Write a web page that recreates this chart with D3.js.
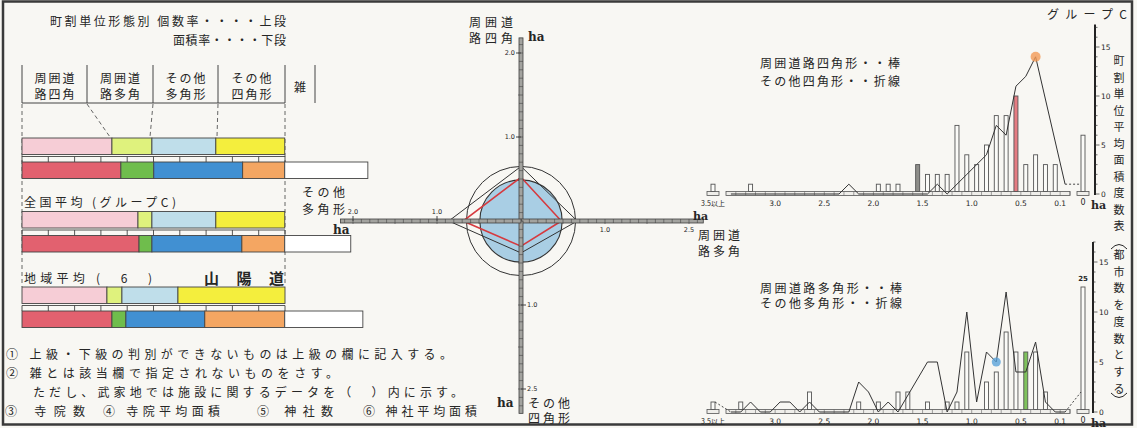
<!DOCTYPE html>
<html>
<head>
<meta charset="utf-8">
<script src="https://cdn.jsdelivr.net/npm/d3@7"></script>
<style>
  body { margin: 0; background: #f8f7f3; }
  svg { display: block; font-family: "Noto Sans CJK JP", "Noto Sans", sans-serif; }
</style>
</head>
<body>
<svg id="chart" width="1137" height="428"></svg>
<script>
// ---- left panel: 町割単位形態別 rates (percent) ----
const headerLines = [["周囲道", "路四角"], ["周囲道", "路多角"], ["その他", "多角形"], ["その他", "四角形"], ["雑"]];
const groupLabels = ["", "全国平均 (グループC)", "地域平均 (　6　)"];
const countRate = [
  [34.2, 15.2, 24.3, 26.2, 0],
  [44.1, 5.3, 24.3, 26.2, 0],
  [32.3, 5.7, 21.3, 40.7, 0]
];
const areaRate = [
  [37.6, 12.5, 33.8, 16.0, 31.6],
  [44.5, 4.9, 34.2, 16.3, 25.1],
  [34.2, 5.3, 30.0, 30.4, 29.7]
];
const countColors = ["#f6cdd6", "#dff27d", "#bfdeea", "#f4ee3d", "#ffffff"];
const areaColors = ["#e2616f", "#6fbd4c", "#4190d2", "#f4a662", "#ffffff"];
const notes = [
  "① 上級・下級の判別ができないものは上級の欄に記入する。",
  "② 雑とは該当欄で指定されないものをさす。",
  "ただし、武家地では施設に関するデータを（　）内に示す。"
];
const notesLast = ["③ 寺院数", "④ 寺院平均面積", "⑤ 神社数", "⑥ 神社平均面積"];

// ---- centre: radar (ha) order: up, right, down, left ----
const radarNames = [["周囲道", "路四角"], ["周囲道", "路多角"], ["その他", "四角形"], ["その他", "多角形"]];
const radarBlack = [0.65, 0.67, 0.38, 0.86];
const radarRed = [0.52, 0.48, 0.30, 0.69];
const circleBlue = 0.49;
const circleOuter = 0.65;
const radarTicks = [1.0, 2.0];
const radarTickLabels = [["1.0", "2.0"], ["1.0", "2.5"], ["1.0", "2.5"], ["1.0", "2.0"]];
const radarLength = [2.18, 2.17, 2.29, 2.15];

// ---- right: histograms, bins of 0.1 ha (bin centre, number of towns) ----
const histTicksX = [3.0, 2.5, 2.0, 1.5, 1.0, 0.5, 0.1];
const histTicksY = [0, 5, 10, 15];
const sqBars = [[3.25, 1], [1.95, 1], [1.85, 1], [1.75, 1], [1.55, 3], [1.45, 2], [1.35, 2], [1.25, 2],
  [1.15, 7], [1.05, 4], [0.95, 3], [0.85, 5], [0.75, 8], [0.65, 8], [0.55, 10], [0.45, 3], [0.35, 4],
  [0.25, 3], [0.15, 3]];
const sqOver = 1, sqZero = 6;
const sqLine = [[3.45, 0], [2.35, 0], [2.25, 1], [2.15, 0], [1.45, 0], [1.35, 1], [1.25, 0], [1.15, 1],
  [1.05, 2], [0.95, 3], [0.85, 4], [0.75, 7], [0.65, 6], [0.55, 11], [0.45, 12], [0.35, 14], [0.05, 1]];
const sqLineZero = 1;
const polyBars = [[3.35, 1], [2.65, 2], [2.15, 1], [1.95, 1], [1.75, 2], [1.65, 2], [1.45, 1], [1.25, 1],
  [1.15, 1], [1.05, 6], [0.85, 3], [0.75, 4], [0.65, 8], [0.55, 6], [0.45, 6], [0.35, 6], [0.25, 2]];
const polyOver = 1, polyZero = 25;
const polyLine = [[3.45, 0], [3.35, 0], [3.25, 1], [3.15, 0], [3.05, 0], [2.95, 1], [2.85, 1], [2.75, 0],
  [2.65, 1], [2.55, 0], [2.25, 0], [2.15, 3], [2.05, 2], [1.95, 0], [1.85, 1], [1.75, 0], [1.45, 5],
  [1.35, 5], [1.25, 0], [1.15, 2], [1.05, 10], [0.95, 1], [0.85, 6], [0.75, 5], [0.65, 12], [0.55, 4],
  [0.45, 4], [0.35, 7], [0.25, 1], [0.15, 0], [0.05, 0]];
const polyLineOver = 1, polyLineZero = 2;
const vertTop = "町割単位平均面積度数表";
const vertBottom = "都市数を度数とする";

const svg = d3.select("#chart");
const ink = "#262626";

function label(str, x, y, o = {}) {
  const t = svg.append("text").attr("x", x).attr("y", y).text(str)
    .attr("font-size", o.size || 12).attr("fill", ink)
    .attr("dominant-baseline", "central")
    .attr("text-anchor", o.anchor || "start");
  if (o.len) t.attr("textLength", o.len).attr("lengthAdjust", "spacing");
  if (o.weight) t.attr("font-weight", o.weight);
  if (o.family) t.attr("font-family", o.family);
  return t;
}

// frame
svg.append("rect").attr("x", 3).attr("y", 1.5).attr("width", 1129).attr("height", 423)
  .attr("fill", "none").attr("stroke", "#3a3a3a").attr("stroke-width", 2.5);

// ================= left panel =================
label("町割単位形態別 個数率・・・・上段", 50, 20, { len: 236 });
label("面積率・・・・下段", 173, 39, { len: 113 });

const colEdges = [22, 87, 153, 218, 285, 315];
colEdges.forEach(x => svg.append("line").attr("x1", x).attr("x2", x).attr("y1", 65).attr("y2", 103)
  .attr("stroke", "#444").attr("stroke-width", 1));
svg.append("line").attr("x1", 22).attr("x2", 285).attr("y1", 103).attr("y2", 103)
  .attr("stroke", "#444").attr("stroke-width", 1);
headerLines.forEach((lines, i) => {
  const cx = (colEdges[i] + colEdges[i + 1]) / 2;
  if (lines.length === 2) {
    label(lines[0], cx, 77, { anchor: "middle", len: 40 });
    label(lines[1], cx, 93, { anchor: "middle", len: 40 });
  } else {
    label(lines[0], cx, 86, { anchor: "middle" });
  }
});

// dashed guides
const dash = (x1, y1, x2, y2) => svg.append("line").attr("x1", x1).attr("y1", y1).attr("x2", x2).attr("y2", y2)
  .attr("stroke", "#555").attr("stroke-width", 0.9).attr("stroke-dasharray", "4,3");
dash(22, 104, 22, 287);
dash(285, 104, 285, 285);
dash(87, 104, 110, 137);
dash(153, 104, 150, 137);
dash(218, 104, 217, 137);

const rateX = d3.scaleLinear().domain([0, 100]).range([22, 285]);
const barTop = [138, 211.5, 287];
const barH = 16.5;
barTop.forEach((y0, gi) => {
  const rows = [[countRate[gi], countColors, y0], [areaRate[gi], areaColors, y0 + 24]];
  rows.forEach(([vals, cols, y]) => {
    let acc = 0;
    vals.forEach((v, ci) => {
      if (v > 0) {
        svg.append("rect").attr("x", rateX(acc)).attr("y", y)
          .attr("width", rateX(acc + v) - rateX(acc)).attr("height", barH)
          .attr("fill", cols[ci]).attr("stroke", "#444").attr("stroke-width", 0.9);
      }
      acc += v;
    });
  });
  // percent ruler between the two bars
  const ry = y0 + barH + 2;
  svg.append("line").attr("x1", rateX(0)).attr("x2", rateX(100)).attr("y1", ry).attr("y2", ry)
    .attr("stroke", "#444").attr("stroke-width", 0.9);
  d3.range(0, 101, 10).forEach(p => svg.append("line").attr("x1", rateX(p)).attr("x2", rateX(p))
    .attr("y1", ry).attr("y2", ry + 5.5).attr("stroke", "#444").attr("stroke-width", 0.9));
  if (groupLabels[gi]) label(groupLabels[gi], 24, y0 - 10, { size: 12, len: gi === 1 ? 152 : 128 });
});
label("山陽道", 204, 277, { size: 15, len: 80, weight: "bold" });

notes.forEach((t, i) => label(t, i === 2 ? 33 : 6, 353 + i * 19, { len: i === 0 ? 446 : i === 1 ? 332 : 430 }));
[[5, 80], [103, 117], [257, 76], [363, 114]].forEach(([x, w], i) => label(notesLast[i], x, 410, { len: w }));

// ================= radar =================
const cx = 521, cy = 221;
const rs = d3.scaleLinear().domain([0, 1]).range([0, 84]);
const dirs = [[0, -1], [1, 0], [0, 1], [-1, 0]];
const pt = (v, i) => [cx + dirs[i][0] * rs(v), cy + dirs[i][1] * rs(v)];

svg.append("circle").attr("cx", cx).attr("cy", cy).attr("r", rs(circleOuter))
  .attr("fill", "none").attr("stroke", "#333").attr("stroke-width", 1);
svg.append("circle").attr("cx", cx).attr("cy", cy).attr("r", rs(circleBlue))
  .attr("fill", "#a9cee4").attr("stroke", "#333").attr("stroke-width", 1.1);
svg.append("path").attr("d", d3.line()(radarBlack.map(pt)) + "Z")
  .attr("fill", "none").attr("stroke", "#333").attr("stroke-width", 1);
svg.append("path").attr("d", d3.line()(radarRed.map(pt)) + "Z")
  .attr("fill", "none").attr("stroke", "#d63a3f").attr("stroke-width", 1.6);
radarRed.forEach((v, i) => {
  const [px, py] = pt(v, i);
  svg.append("circle").attr("cx", px).attr("cy", py).attr("r", 2).attr("fill", "#d63a3f");
});

// ruler axes
dirs.forEach((d, i) => {
  const [ex, ey] = pt(radarLength[i], i);
  const vertical = d[0] === 0;
  if (vertical) {
    svg.append("rect").attr("x", cx - 2).attr("y", Math.min(cy, ey)).attr("width", 4).attr("height", Math.abs(ey - cy))
      .attr("fill", "#a3a39f").attr("stroke", "#3f3f3f").attr("stroke-width", 0.8);
  } else {
    svg.append("rect").attr("x", Math.min(cx, ex)).attr("y", cy - 2).attr("height", 4).attr("width", Math.abs(ex - cx))
      .attr("fill", "#a3a39f").attr("stroke", "#3f3f3f").attr("stroke-width", 0.8);
  }
  d3.range(0.1, radarLength[i], 0.1).forEach(v => {
    const [px, py] = pt(v, i);
    const big = Math.abs(v * 10 % 5) < 0.01 || Math.abs(v * 10 % 5 - 5) < 0.01;
    if (vertical) svg.append("line").attr("x1", cx - (big ? 3 : 2)).attr("x2", cx + 2).attr("y1", py).attr("y2", py)
      .attr("stroke", "#444").attr("stroke-width", 0.6);
    else svg.append("line").attr("y1", cy - 2).attr("y2", cy + (big ? 3 : 2)).attr("x1", px).attr("x2", px)
      .attr("stroke", "#444").attr("stroke-width", 0.6);
  });
  radarTicks.forEach((v, j) => {
    const [px, py] = pt(v, i);
    const s = radarTickLabels[i][j];
    if (i === 0) { svg.append("line").attr("x1", cx - 5).attr("x2", cx).attr("y1", py).attr("y2", py).attr("stroke", "#444");
      label(s, cx - 6, py, { size: 6.5, anchor: "end", family: "DejaVu Sans" }); }
    if (i === 2) { svg.append("line").attr("x1", cx).attr("x2", cx + 5).attr("y1", py).attr("y2", py).attr("stroke", "#444");
      label(s, cx + 6, py, { size: 6.5, family: "DejaVu Sans" }); }
    if (i === 1) label(s, px, cy + 9, { size: 6.5, anchor: "middle", family: "DejaVu Sans" });
    if (i === 3) { svg.append("line").attr("x1", px).attr("x2", px).attr("y1", cy - 5).attr("y2", cy).attr("stroke", "#444");
      label(s, px, cy - 9, { size: 6.5, anchor: "middle", family: "DejaVu Sans" }); }
  });
});
const haFont = { size: 12, weight: "bold", family: "DejaVu Serif" };
label(radarNames[0][0], 513, 21, { anchor: "end", len: 44 });
label(radarNames[0][1], 513, 37, { anchor: "end", len: 44 });
label("ha", 528, 37, haFont);
label("ha", 693, 216, { size: 11, weight: "bold", family: "DejaVu Serif" });
label(radarNames[1][0], 698, 234, { len: 42 });
label(radarNames[1][1], 698, 250, { len: 42 });
label("ha", 497, 403, haFont);
label(radarNames[2][0], 528, 402, { len: 42 });
label(radarNames[2][1], 528, 417, { len: 42 });
label(radarNames[3][0], 302, 191, { len: 43 });
label(radarNames[3][1], 302, 208, { len: 43 });
label("ha", 333, 230, haFont);

// ================= histograms =================
const xH = d3.scaleLinear().domain([3.5, 0]).range([726, 1070]);
const overX = xH(3.5) - 13, zeroX = xH(0) + 13;
const yTop = d3.scaleLinear().domain([0, 15]).range([194, 47]);
const yBot = d3.scaleLinear().domain([0, 15]).range([412, 262]);

function hist(y, bars, over, zero, line, fills, axisX, axisMax, opt) {
  const y0 = y(0);
  const g = svg.append("g");
  // strip
  g.append("rect").attr("x", xH(3.5)).attr("y", y0 - 2.5).attr("width", xH(0) - xH(3.5)).attr("height", 4)
    .attr("fill", "#efeeea").attr("stroke", "#555").attr("stroke-width", 0.8);
  d3.range(0, 35).forEach(k => g.append("line").attr("x1", xH(k / 10)).attr("x2", xH(k / 10))
    .attr("y1", y0 - 2.5).attr("y2", y0 + 1.5).attr("stroke", "#666").attr("stroke-width", 0.6));
  [overX, zeroX].forEach(x => g.append("rect").attr("x", x - 6).attr("y", y0 - 2.5).attr("width", 12).attr("height", 4)
    .attr("fill", "#efeeea").attr("stroke", "#555").attr("stroke-width", 0.8));
  // bars
  const barOf = (x, v, fill) => g.append("rect").attr("x", x - 2).attr("width", 4)
    .attr("y", y(v)).attr("height", y0 - 2.5 - y(v))
    .attr("fill", fill || "#fbfbf8").attr("stroke", "#555").attr("stroke-width", 0.9);
  bars.forEach(([b, v]) => barOf(xH(b), v, fills[b]));
  barOf(overX, over);
  barOf(zeroX, Math.min(zero, 12.5));
  if (zero > 12.5) label(String(zero), zeroX, y(12.5) - 8, { size: 7, anchor: "middle", family: "DejaVu Sans", weight: "bold" });
  // polyline
  g.append("path").attr("d", d3.line().x(d => xH(d[0])).y(d => y(d[1]))(line))
    .attr("fill", "none").attr("stroke", "#333").attr("stroke-width", 1);
  if (opt.lineOver != null) g.append("path").attr("d", d3.line()([[overX + 2, y(opt.lineOver)], [xH(line[0][0]), y(0)]]))
    .attr("stroke", "#444").attr("stroke-dasharray", "2,2").attr("fill", "none");
  const last = line[line.length - 1];
  g.append("path").attr("d", d3.line()([[xH(last[0]), y(last[1])], [zeroX - 2, y(opt.lineZero)]]))
    .attr("stroke", "#444").attr("stroke-dasharray", "2,2").attr("fill", "none");
  // y axis
  g.append("line").attr("x1", axisX).attr("x2", axisX).attr("y1", y0 + 1).attr("y2", y(axisMax))
    .attr("stroke", "#222").attr("stroke-width", 2);
  d3.range(0, Math.floor(axisMax) + 1).forEach(v => g.append("line").attr("x1", axisX).attr("x2", axisX + (v % 5 ? 2.5 : 4.5))
    .attr("y1", y(v)).attr("y2", y(v)).attr("stroke", "#333").attr("stroke-width", 0.7));
  histTicksY.forEach(v => label(String(v), axisX + 6, y(v), { size: 7.5, family: "DejaVu Sans" }));
  // x labels
  histTicksX.forEach(v => label(v.toFixed(1), xH(v), y0 + 9, { size: 7.5, anchor: "middle", family: "DejaVu Sans" }));
  label("3.5以上", overX, y0 + 9, { size: 7, anchor: "middle", len: 24 });
  label("0", zeroX, y0 + 8, { size: 8, anchor: "middle", family: "DejaVu Sans" });
  label("ha", zeroX + 8, y0 + 11, { size: 11, weight: "bold", family: "DejaVu Serif" });
}

hist(yTop, sqBars, sqOver, sqZero, sqLine, { 1.55: "#8e8e8a", 0.55: "#e57c82" }, 1095, 17.3, { lineZero: sqLineZero });
hist(yBot, polyBars, polyOver, polyZero, polyLine, { 0.45: "#7fc25c" }, 1093, 17, { lineOver: polyLineOver, lineZero: polyLineZero });

// highlights
svg.append("circle").attr("cx", xH(0.35)).attr("cy", yTop(14)).attr("r", 5).attr("fill", "#f39a56").attr("opacity", 0.8);
svg.append("circle").attr("cx", xH(0.75)).attr("cy", yBot(5)).attr("r", 4.5).attr("fill", "#5aa2da").attr("opacity", 0.8);

label("グループC", 1127, 13, { anchor: "end", len: 80 });
label("周囲道路四角形・・棒", 760, 62, { len: 140 });
label("その他四角形・・折線", 760, 80, { len: 140 });
label("周囲道路多角形・・棒", 760, 287, { len: 142 });
label("その他多角形・・折線", 760, 302, { len: 142 });

// vertical captions
vertTop.split("").forEach((c, i) => label(c, 1119, 60 + i * 16.5, { anchor: "middle", size: 11 }));
vertBottom.split("").forEach((c, i) => label(c, 1119, 254 + i * 16.7, { anchor: "middle", size: 11 }));
svg.append("path").attr("d", "M1111,249 Q1119,240 1127,249").attr("fill", "none").attr("stroke", ink).attr("stroke-width", 1);
svg.append("path").attr("d", "M1111,393 Q1119,402 1127,393").attr("fill", "none").attr("stroke", ink).attr("stroke-width", 1);
</script>
</body>
</html>
